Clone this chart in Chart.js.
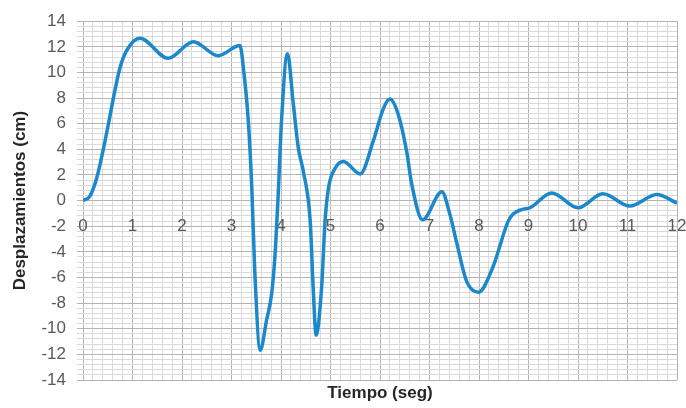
<!DOCTYPE html>
<html>
<head>
<meta charset="utf-8">
<script src="https://cdn.jsdelivr.net/npm/chart.js@4/dist/chart.umd.min.js"></script>
<style>
  html, body { margin: 0; padding: 0; background: #ffffff; }
  #wrap { width: 686px; height: 408px; }
</style>
</head>
<body>
<div id="wrap"><canvas id="c" width="686" height="408"></canvas></div>
<script>
// Tiempo (seg)
const timeSec = [0, 0.14, 0.28, 0.41, 0.53, 0.64, 0.75, 0.88, 1.15, 1.72, 2.23, 2.73, 3.17, 3.25, 3.34, 3.41, 3.47, 3.58, 3.71, 3.81, 3.88, 3.95, 4.01, 4.13, 4.25, 4.35, 4.45, 4.59, 4.65, 4.71, 4.82, 4.89, 4.96, 5.09, 5.26, 5.6, 5.86, 6.07, 6.2, 6.37, 6.54, 6.64, 6.86, 7.25, 7.4, 7.55, 7.75, 7.99, 8.28, 8.59, 8.69, 8.86, 9.03, 9.47, 10.0, 10.5, 11.05, 11.59, 12];
// Desplazamientos (cm)
const displacementCm = [0, 0.35, 1.8, 4.0, 6.3, 8.5, 10.4, 11.7, 12.67, 11.1, 12.4, 11.3, 12.1, 10.0, 6.2, 1.0, -5.5, -11.67, -9.3, -7.3, -4.2, 1.0, 6.2, 11.46, 7.5, 4.1, 2.3, -1.6, -6.8, -10.5, -6.8, -1.6, 1.0, 2.5, 3.06, 2.08, 4.6, 7.2, 7.92, 6.7, 3.8, 1.3, -1.5, 0.7, -0.9, -3.3, -6.3, -7.15, -5.2, -1.6, -1.05, -0.7, -0.56, 0.6, -0.56, 0.53, -0.43, 0.48, -0.2];
// Tick labels
const xTickLabels = [0, 1, 2, 3, 4, 5, 6, 7, 8, 9, 10, 11, 12];
const yTickLabels = [-14, -12, -10, -8, -6, -4, -2, 0, 2, 4, 6, 8, 10, 12, 14];
const xMinorStep = 0.2;
const yMinorStep = 0.4;

const MAJOR = '#b4b4b4';
const MINOR = '#dadada';
const near = (v, list) => list.some(t => Math.abs(t - v) < 1e-6);

const points = timeSec.map((t, i) => ({ x: t, y: displacementCm[i] }));

new Chart(document.getElementById('c'), {
  type: 'line',
  data: {
    datasets: [{
      data: points,
      borderColor: '#1b88cc',
      borderWidth: 3.5,
      pointRadius: 0,
      fill: false,
      cubicInterpolationMode: 'monotone'
    }]
  },
  options: {
    responsive: false,
    animation: false,
    layout: { padding: { left: 6, right: 9, top: 19, bottom: 0 } },
    plugins: { legend: { display: false }, tooltip: { enabled: false } },
    scales: {
      x: {
        type: 'linear',
        position: { y: 0 },
        min: xTickLabels[0],
        max: xTickLabels[xTickLabels.length - 1],
        ticks: {
          stepSize: xMinorStep,
          autoSkip: false,
          maxRotation: 0,
          padding: 16,
          color: '#595959',
          font: { family: 'Liberation Sans', size: 17 },
          callback: v => near(v, xTickLabels) ? String(Math.round(v)) : ''
        },
        grid: {
          drawTicks: false,
          color: ctx => near(ctx.tick.value, xTickLabels) ? MAJOR : MINOR,
          lineWidth: 1
        },
        border: { display: false },
        afterFit: s => { s.paddingLeft = 0; s.paddingRight = 0; }
      },
      xTitle: {
        type: 'linear',
        position: 'bottom',
        min: xTickLabels[0],
        max: xTickLabels[xTickLabels.length - 1],
        ticks: { display: false },
        grid: { display: false },
        border: { display: false },
        title: {
          display: true,
          text: 'Tiempo (seg)',
          color: '#262626',
          font: { family: 'Liberation Sans', size: 17, weight: 'bold' },
          padding: { top: 4, bottom: 4 }
        },
        afterFit: s => { s.height = 28; s.paddingLeft = 0; s.paddingRight = 0; }
      },
      y: {
        type: 'linear',
        min: yTickLabels[0],
        max: yTickLabels[yTickLabels.length - 1],
        ticks: {
          stepSize: yMinorStep,
          autoSkip: false,
          padding: 11,
          color: '#595959',
          font: { family: 'Liberation Sans', size: 17 },
          callback: v => near(v, yTickLabels) ? String(Math.round(v)) : ''
        },
        grid: {
          tickLength: 6,
          color: ctx => near(ctx.tick.value, yTickLabels) ? MAJOR : MINOR,
          tickColor: ctx => near(ctx.tick.value, yTickLabels) ? MAJOR : MINOR,
          lineWidth: 1
        },
        border: { display: false },
        title: {
          display: true,
          text: 'Desplazamientos (cm)',
          color: '#262626',
          font: { family: 'Liberation Sans', size: 17, weight: 'bold' },
          padding: { top: 4, bottom: 4 }
        },
        afterFit: s => { s.width = 77; }
      }
    }
  }
});
</script>
</body>
</html>
